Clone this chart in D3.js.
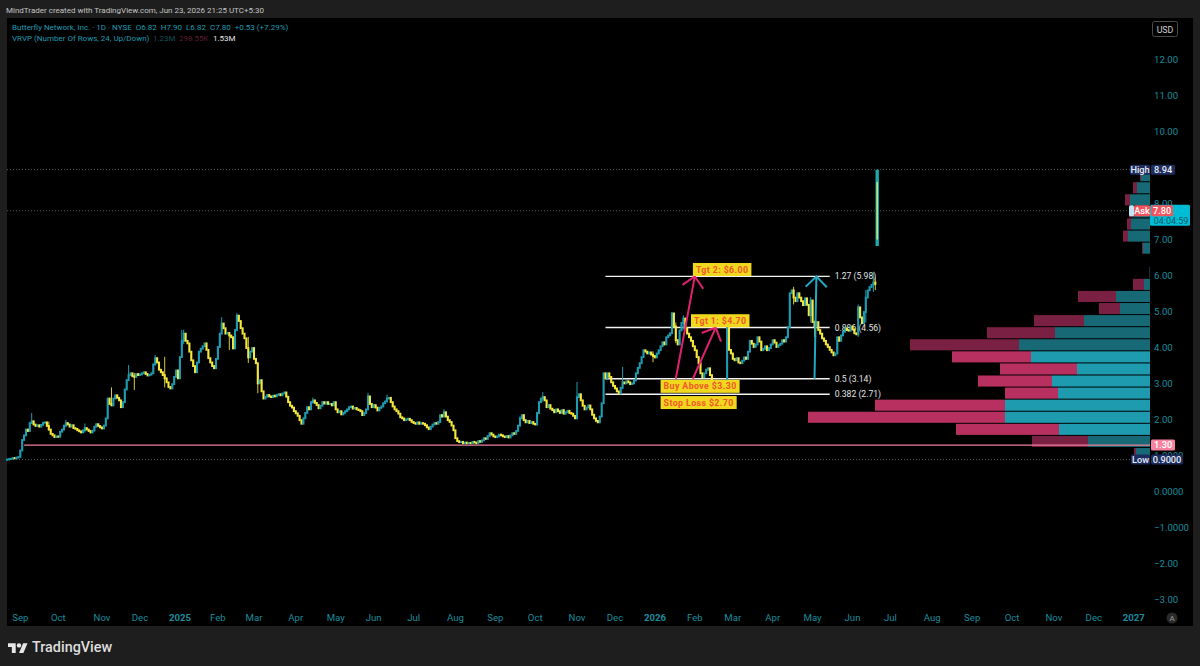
<!DOCTYPE html>
<html>
<head>
<meta charset="utf-8">
<style>
html,body{margin:0;padding:0;background:#1e1e1e;overflow:hidden}
svg{display:block}
text{font-family:Roboto,"Open Sans",sans-serif}
</style>
<script src="https://cdn.jsdelivr.net/npm/d3@7/dist/d3.min.js"></script>
</head>
<body>
<svg id="chart" width="1200" height="666"></svg>
<script>
// Daily closes, BFLY, from late Aug 2024
const closes = [
.91,.92,.93,.95,.94,.96,.98,1.16,1.45,1.58,
1.74,1.7,1.92,1.97,1.88,1.84,1.86,1.82,1.87,1.93,
1.94,1.84,1.74,1.62,1.58,1.53,1.55,1.54,1.68,1.74,
1.85,1.92,1.88,1.82,1.86,1.78,1.76,1.72,1.69,1.66,
1.72,1.78,1.74,1.70,1.66,1.71,1.82,1.89,1.84,1.80,
1.77,1.85,2.05,2.6,2.45,2.41,2.6,2.69,2.62,2.55,
2.36,2.5,2.85,3.11,3.25,3.3,3.22,3.2,3.28,3.25,
3.27,3.3,3.33,3.28,3.24,3.26,3.3,3.55,3.72,3.6,
3.4,3.33,3.25,3.16,3.05,2.92,2.88,3.0,3.2,3.38,
3.16,3.75,4.2,4.4,4.2,4.13,3.9,3.66,3.5,3.33,
3.6,3.9,3.98,4.05,4.13,3.95,3.72,3.6,3.5,3.44,
3.7,4.03,4.4,4.68,4.55,4.4,4.42,4.35,4.3,3.99,
4.5,4.9,4.75,4.55,4.4,4.27,4.0,3.74,3.9,4.0,
3.7,3.58,3.02,3.11,2.8,2.6,2.65,2.7,2.66,2.64,
2.68,2.66,2.7,2.72,2.69,2.74,2.77,2.65,2.5,2.4,
2.35,2.25,2.19,2.12,2.0,1.9,2.05,2.2,2.36,2.3,
2.5,2.55,2.48,2.42,2.33,2.4,2.5,2.46,2.5,2.45,
2.45,2.41,2.5,2.3,2.22,2.25,2.16,2.2,2.25,2.3,
2.36,2.38,2.32,2.34,2.3,2.28,2.25,2.14,2.2,2.3,
2.66,2.45,2.36,2.42,2.35,2.27,2.34,2.38,2.47,2.52,
2.6,2.62,2.5,2.38,2.3,2.25,2.18,2.08,2.05,2.0,
2.02,2.04,2.0,1.95,1.92,1.9,1.94,1.9,1.92,1.9,
1.86,1.8,1.75,1.82,1.88,1.92,1.9,1.95,2.14,2.1,
2.22,2.1,2.0,1.95,1.85,1.72,1.5,1.42,1.39,1.4,
1.36,1.38,1.36,1.37,1.36,1.4,1.38,1.36,1.42,1.4,
1.44,1.5,1.48,1.56,1.64,1.6,1.55,1.53,1.55,1.6,
1.58,1.55,1.53,1.56,1.52,1.58,1.64,1.62,1.7,1.85,
2.05,2.14,2.0,1.94,1.98,1.92,1.95,1.9,1.88,2.2,
2.5,2.6,2.64,2.55,2.36,2.42,2.32,2.28,2.22,2.3,
2.25,2.2,2.28,2.18,2.22,2.26,2.2,2.18,2.12,2.05,
2.64,2.72,2.55,2.4,2.3,2.35,2.41,2.3,2.15,2.05,
1.98,1.94,2.1,2.47,3.3,3.16,3.3,3.2,3.05,2.95,
2.88,2.8,2.74,2.9,3.05,3.02,3.08,3.05,3.0,3.02,
3.1,3.3,3.45,3.58,3.75,3.94,3.9,3.85,3.88,3.82,
3.78,3.74,3.85,3.94,4.05,4.16,4.1,4.3,4.35,4.41,
4.96,4.6,4.22,4.1,4.49,4.7,4.82,4.55,4.4,4.3,
4.2,4.05,3.94,3.75,3.58,3.3,3.19,3.3,3.4,3.44,
3.25,3.05,3.02,3.0,3.04,3.02,3.05,3.08,3.03,4.69,
3.95,3.85,3.7,3.66,3.72,3.6,3.58,3.65,3.74,3.7,
3.9,4.2,4.12,4.03,4.1,4.3,4.18,3.94,3.98,4.05,
3.94,4.0,4.1,4.22,4.15,4.03,4.08,4.12,4.22,4.18,
4.3,4.58,5.52,5.6,5.4,5.3,5.52,5.4,5.3,5.19,
5.38,5.2,4.91,5.32,4.72,4.6,4.72,4.5,4.4,4.27,
4.2,4.1,4.03,3.95,3.88,3.8,3.85,4.3,4.2,4.35,
4.45,4.55,4.5,4.48,4.6,4.52,4.41,4.38,5.13,4.85,
4.69,5.0,5.4,5.6,5.69,5.75,5.82,5.78,7.80
];
// Sessions with a visible wick beyond the body
const wickBars  = [13,22,31,41,55,64,67,78,83,92,93,113,117,121,127,132,161,190,200,230,270,282,300,324,340,350,352,356,379,414,423,425,448,452,456,457,458];
const wickHighs = [2.19,1.95,2.0,1.9,2.9,3.52,3.3,3.8,3.75,4.5,4.5,4.85,4.4,4.96,4.3,3.3,2.62,2.75,2.7,2.3,2.1,2.77,3.05,3.47,3.9,4.99,4.7,4.9,4.72,5.69,5.41,4.75,5.2,5.6,6.1,5.95,8.94];
const wickLows  = [1.9,1.7,1.8,1.65,2.4,3.2,2.83,3.5,2.9,3.9,4.1,4.5,3.94,4.5,3.58,2.74,2.45,2.3,2.55,2.1,1.95,2.5,2.5,2.85,3.6,4.5,4.13,4.5,3.4,5.2,4.7,4.3,4.3,4.7,5.55,5.6,6.82];
const lastOpen = 6.82;

// Visible range volume rows, 24 rows from the low to the high (millions)
const rowUp   = [1.4,6.2,9.1,14.5,14.5,9.2,9.8,7.3,11.9,13.1,9.5,6.6,3.0,3.4,.6,.05,0,.7,2.2,1.9,1.7,2.0,1.3,.9];
const rowDown = [.2,5.6,10.3,19.7,13.0,5.3,7.4,7.7,7.9,10.9,6.8,5.0,2.1,3.8,1.1,0,0,.1,.5,.4,.4,.5,.4,.1];
const valueAreaRows = [2,3,4,5,6,7,8];
const rangeLow = 0.9, rangeHigh = 8.94;

// Price axis and month axis
const priceTicks = [12,11,10,8,7,6,5,4,3,2,1,0,-1,-2,-3];
const priceTickText = ["12.00","11.00","10.00","8.00","7.00","6.00","5.00","4.00","3.00","2.00","1.0000","0.0000","\u22121.0000","\u22122.00","\u22123.00"];
const monthBars = [7,27,50,70,91,111,130,152,173,193,214,236,257,278,300,320,341,362,382,403,424,445,465,487,508,529,551,572,593];
const monthText = ["Sep","Oct","Nov","Dec","2025","Feb","Mar","Apr","May","Jun","Jul","Aug","Sep","Oct","Nov","Dec","2026","Feb","Mar","Apr","May","Jun","Jul","Aug","Sep","Oct","Nov","Dec","2027"];

// Fibonacci levels
const fibPrices = [5.98,4.56,3.14,2.71];
const fibText = ["1.27 (5.98)","0.886 (4.56)","0.5 (3.14)","0.382 (2.71)"];
const fibStartBar = 315, fibEndBar = 433;

// Trade plan annotations
const noteText  = ["Tgt 2: $6.00","Tgt 1: $4.70","Buy Above $3.30","Stop Loss $2.70"];
const noteBar   = [361,360,344,344];
const notePrice = [5.99,4.57,2.75,2.30];
const arrowFromBar = [352,361,425];
const arrowFromPrice = [3.14,3.14,3.14];
const arrowToBar = [362,373,426];
const arrowToPrice = [5.98,4.56,5.98];
const arrowColor = ["#e0216f","#e0216f","#22a9c4"];

const supportPrice = 1.30;
const askPrice = 7.80;

const TEAL="#1f9cb2", YELLOW="#f6e83c", AXIS="#1a8c9d";

const svg = d3.select("#chart");
const x = d3.scaleLinear().domain([0,600]).range([7,1147]);
const y = d3.scaleLinear().domain([0,12]).range([492,59.3]);
const volW = d3.scaleLinear().domain([0,34.2]).range([0,342]);
const paneRight = 1150;
const lastBar = closes.length-1;

// frame and panes
svg.append("rect").attr("width",1200).attr("height",666).attr("fill","#1e1e1e");
svg.append("rect").attr("x",7).attr("y",18).attr("width",1186).attr("height",608).attr("fill","#000");

// volume profile
const rowH = (rangeHigh-rangeLow)/rowUp.length;
const rows = d3.range(rowUp.length).map(i=>({i,up:rowUp[i],down:rowDown[i],va:valueAreaRows.includes(i)}));
const gVol = svg.append("g");
gVol.selectAll("rect.u").data(rows).join("rect").attr("class","u")
  .attr("x",d=>paneRight-volW(d.up)).attr("width",d=>volW(d.up))
  .attr("y",d=>y(rangeLow+rowH*(d.i+1))+.5).attr("height",d=>y(rangeLow+rowH*d.i)-y(rangeLow+rowH*(d.i+1))-1)
  .attr("fill",d=>d.va?"#1f9bb0":"#176975");
gVol.selectAll("rect.d").data(rows).join("rect").attr("class","d")
  .attr("x",d=>paneRight-volW(d.up)-volW(d.down)).attr("width",d=>volW(d.down))
  .attr("y",d=>y(rangeLow+rowH*(d.i+1))+.5).attr("height",d=>y(rangeLow+rowH*d.i)-y(rangeLow+rowH*(d.i+1))-1)
  .attr("fill",d=>d.va?"#b8305f":"#7a2143");

// dotted range lines
const dotted = [rangeHigh,askPrice,rangeLow];
svg.append("g").selectAll("line").data(dotted).join("line")
  .attr("x1",7).attr("x2",1130).attr("y1",d=>y(d)).attr("y2",d=>y(d))
  .attr("stroke","#5a5a5a").attr("stroke-width",1).attr("stroke-dasharray","1 2");

// support line
svg.append("line").attr("x1",x(9)).attr("x2",paneRight)
  .attr("y1",y(supportPrice)).attr("y2",y(supportPrice)).attr("stroke","#ef7f9b").attr("stroke-width",1.3);

// fib levels
const gFib = svg.append("g");
gFib.selectAll("line").data(fibPrices).join("line")
  .attr("x1",x(fibStartBar)).attr("x2",x(fibEndBar)).attr("y1",d=>y(d)).attr("y2",d=>y(d))
  .attr("stroke","#f2f2f2").attr("stroke-width",1.4);
gFib.selectAll("text").data(fibPrices).join("text")
  .attr("x",x(fibEndBar)+5).attr("y",d=>y(d)+3).attr("font-size",8.6).attr("fill","#e4e4e4")
  .text((d,i)=>fibText[i]);

// candles
const bars = closes.map((c,i)=>{
  const o = i===lastBar ? lastOpen : (i?closes[i-1]:c-.01);
  const k = wickBars.indexOf(i);
  return {i,o,c,h:k>=0?wickHighs[k]:Math.max(o,c),l:k>=0?wickLows[k]:Math.min(o,c)};
});
const gC = svg.append("g");
gC.selectAll("line").data(bars).join("line")
  .attr("x1",d=>x(d.i)).attr("x2",d=>x(d.i)).attr("y1",d=>y(d.h)).attr("y2",d=>y(d.l))
  .attr("stroke",d=>d.i===lastBar?"#1aa9ad":(d.c>=d.o?TEAL:"#d9cb35"))
  .attr("stroke-width",d=>d.i===lastBar?3.4:1);
gC.selectAll("rect").data(bars.filter(d=>d.i!==lastBar)).join("rect")
  .attr("x",d=>x(d.i)-1.05).attr("width",2.1)
  .attr("y",d=>y(Math.max(d.o,d.c))-.6).attr("height",d=>Math.abs(y(d.o)-y(d.c))+1.8)
  .attr("fill",d=>d.c>=d.o?TEAL:YELLOW);
// the last session's pale body
svg.append("line").attr("x1",x(lastBar)).attr("x2",x(lastBar)).attr("y1",y(8.6)).attr("y2",y(7.0))
  .attr("stroke","#aee88f").attr("stroke-width",1.6);

// arrows
const gA = svg.append("g").attr("fill","none").attr("stroke-width",2);
arrowFromBar.forEach((b,i)=>{
  const x0=x(b),y0=y(arrowFromPrice[i]),x1=x(arrowToBar[i]),y1=y(arrowToPrice[i]);
  const ang=Math.atan2(y1-y0,x1-x0), len=15, sp=.78;
  const w1=[x1-len*Math.cos(ang-sp),y1-len*Math.sin(ang-sp)], w2=[x1-len*Math.cos(ang+sp),y1-len*Math.sin(ang+sp)];
  gA.append("path").attr("stroke",arrowColor[i])
    .attr("d",d3.line()([[x0,y0],[x1,y1]])+d3.line()([w1,[x1,y1],w2]));
});

// trade plan notes
const gN = svg.append("g");
noteText.forEach((t,i)=>{
  const g = gN.append("g").attr("transform",`translate(${x(noteBar[i])},${y(notePrice[i])})`);
  const tx = g.append("text").attr("x",3).attr("y",-3.5).attr("font-weight",700)
    .attr("letter-spacing",.4).attr("font-size",8.8).attr("fill","#f2562a").text(t);
  const w = tx.node().getComputedTextLength();
  g.insert("rect","text").attr("x",0).attr("y",-13).attr("width",w+6).attr("height",13).attr("fill","#f0d81e");
});

// price axis labels
svg.append("g").selectAll("text").data(priceTicks).join("text")
  .attr("x",1154).attr("y",d=>y(d)+3.2).attr("font-size",9.6).attr("fill",AXIS)
  .text((d,i)=>priceTickText[i]);

// month labels
svg.append("g").selectAll("text").data(monthBars).join("text")
  .attr("x",d=>x(d)).attr("y",621).attr("text-anchor","middle").attr("font-size",9.6)
  .attr("fill",AXIS).attr("font-weight",(d,i)=>/^\d/.test(monthText[i])?700:400)
  .text((d,i)=>monthText[i]);

// price tags
function tag(x0,w,yc,h,fill,txt,color,size){
  svg.append("rect").attr("x",x0).attr("y",yc-h/2).attr("width",w).attr("height",h).attr("rx",1.5).attr("fill",fill);
  if(txt) svg.append("text").attr("x",x0+w/2).attr("y",yc+3.2).attr("text-anchor","middle")
    .attr("font-size",size||9.2).attr("font-weight",500).attr("fill",color).text(txt);
}
const ya=y(askPrice);
tag(1150,40,ya+4.5,21,"#00bcd4");
tag(1129,5,ya,11,"#bfe6ee");
svg.append("text").attr("x",1171).attr("y",ya+13).attr("text-anchor","middle").attr("font-size",9).attr("fill","#0b5a68").text("04:04:59");
tag(1134,16,ya,11,"#f05560","Ask","#fff");
tag(1151,22,ya,11,"#f05560",askPrice.toFixed(2),"#fff");
const yh=y(rangeHigh);
tag(1130,20,yh,10,"#1c2c5e","High","#e8ecf5");
tag(1151,24,yh,10,"#1c2c5e",rangeHigh.toFixed(2),"#e8ecf5");
const yl=y(rangeLow);
tag(1131,19,yl,10,"#1c2c5e","Low","#e8ecf5");
tag(1151,32,yl,10,"#1c2c5e",rangeLow.toFixed(4),"#e8ecf5");
tag(1151,24,y(supportPrice),11,"#f7829f",supportPrice.toFixed(2),"#fff");

// currency button and auto-scale mark
svg.append("rect").attr("x",1152.5).attr("y",21.5).attr("width",25).attr("height",15).attr("rx",2).attr("fill","#000").attr("stroke","#4a4a4a");
svg.append("text").attr("x",1165).attr("y",32.5).attr("text-anchor","middle").attr("font-size",8.8).attr("fill","#cfcfcf").text("USD");
svg.append("circle").attr("cx",1172).attr("cy",618).attr("r",5.5).attr("fill","#2a2a2a");
svg.append("text").attr("x",1172).attr("y",621).attr("text-anchor","middle").attr("font-size",8).attr("fill","#9a9a9a").text("A");

// header and legend
svg.append("text").attr("x",6).attr("y",12.5).attr("font-size",8).attr("fill","#c4c4c4")
  .text("MindTrader created with TradingView.com, Jun 23, 2026 21:25 UTC+5:30");
svg.append("text").attr("x",12).attr("y",30).attr("font-size",8).attr("fill",TEAL).attr("xml:space","preserve")
  .text("Butterfly Network, Inc. \u00b7 1D \u00b7 NYSE  O6.82  H7.90  L6.82  C7.80  +0.53 (+7.29%)");
svg.append("text").attr("x",12).attr("y",41).attr("font-size",8).attr("fill",TEAL)
  .text("VRVP (Number Of Rows, 24, Up/Down)");
const legendVol=[["1.23M",153,"#14525a"],["298.55K",179,"#5c1c36"],["1.53M",213,"#e6e6e6"]];
svg.append("g").selectAll("text").data(legendVol).join("text")
  .attr("x",d=>d[1]).attr("y",41).attr("font-size",8).attr("fill",d=>d[2]).text(d=>d[0]);

// wordmark
const logo = svg.append("g").attr("transform","translate(8,641) scale(.55)").attr("fill","#e6e6e6");
logo.append("path").attr("d","M14 22H7V11H0V4h14v18zM28 22h-8l7.5-18h8L28 22z");
logo.append("circle").attr("cx",20).attr("cy",8).attr("r",4);
svg.append("text").attr("x",32).attr("y",651.5).attr("font-size",14.4).attr("font-weight",500).attr("fill","#dedede").text("TradingView");
</script>
</body>
</html>
